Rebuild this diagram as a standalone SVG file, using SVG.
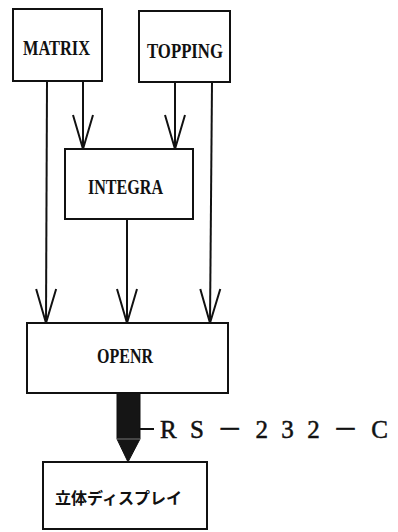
<svg xmlns="http://www.w3.org/2000/svg" width="398" height="532" viewBox="0 0 398 532">
<style>
.box{fill:#fff;stroke:#111;stroke-width:2}
.ln{fill:none;stroke:#111;stroke-width:2}
.lbl{font-family:"Liberation Serif","DejaVu Serif",serif;font-weight:bold;fill:#111}
.jp{font-family:"Noto Sans CJK JP","Noto Sans CJK SC",sans-serif;font-weight:bold;fill:#111}
</style>
<defs>
<marker id="v" markerUnits="userSpaceOnUse" markerWidth="40" markerHeight="24" viewBox="-36 -12 40 24" refX="0" refY="0" orient="auto" overflow="visible">
<path d="M-34,-10 L0,0 L-34,10" fill="none" stroke="#111" stroke-width="2"/>
</marker>
</defs>
<rect width="398" height="532" fill="#fff"/>
<g id="connectors">
<path class="ln" d="M47,81 L46,323" marker-end="url(#v)"/>
<path class="ln" d="M83,81 L83,149" marker-end="url(#v)"/>
<path class="ln" d="M175,82 L175,149" marker-end="url(#v)"/>
<path class="ln" d="M212,82 L210,323" marker-end="url(#v)"/>
<path class="ln" d="M127,219 L127,323" marker-end="url(#v)"/>
<path d="M117,393 H140 V439 L128,462 L117,439 Z" fill="#151515" stroke="#111" stroke-width="1"/>
<line x1="117" y1="439" x2="140" y2="439" stroke="#777" stroke-width="1"/>
<line x1="140" y1="429" x2="154" y2="429" stroke="#111" stroke-width="2"/>
</g>
<g id="matrix">
<rect class="box" x="13" y="9" width="89" height="72"/>
<text class="lbl" x="23" y="55" font-size="21" textLength="67" lengthAdjust="spacingAndGlyphs">MATRIX</text>
</g>
<g id="topping">
<rect class="box" x="139" y="11" width="91" height="71"/>
<text class="lbl" x="147" y="58" font-size="21" textLength="76" lengthAdjust="spacingAndGlyphs">TOPPING</text>
</g>
<g id="integra">
<rect class="box" x="65" y="149" width="128" height="70"/>
<text class="lbl" x="88" y="194" font-size="20" textLength="75" lengthAdjust="spacingAndGlyphs">INTEGRA</text>
</g>
<g id="openr">
<rect class="box" x="27" y="323" width="201" height="70"/>
<text class="lbl" x="97" y="363" font-size="20" textLength="56" lengthAdjust="spacingAndGlyphs">OPENR</text>
</g>
<g id="display">
<rect class="box" x="43" y="462" width="164" height="67"/>
<text class="jp" x="55" y="504" font-size="16" textLength="127" lengthAdjust="spacingAndGlyphs">立体ディスプレイ</text>
</g>
<g id="rs232c">
<text x="160" y="438" font-size="25" font-family="Liberation Serif, Noto Sans CJK JP, serif" fill="#111" stroke="#111" stroke-width="0.5" textLength="228" lengthAdjust="spacing">RS－232－C</text>
</g>
</svg>
